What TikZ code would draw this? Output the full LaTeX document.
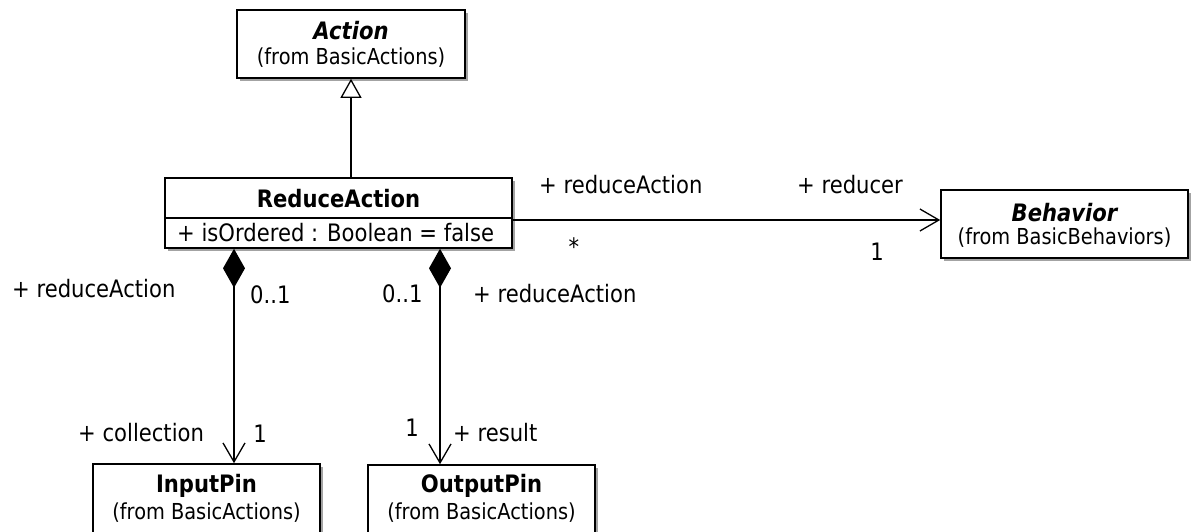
\documentclass[tikz,border=0pt]{standalone}
\usepackage{fontspec}
\setmainfont{DejaVu Sans}[FakeStretch=0.88]
\usetikzlibrary{arrows.meta,shadows}
\begin{document}
\begin{tikzpicture}[x=1pt,y=-1pt,
  box/.style={draw=black, line width=1.6pt, fill=white, rectangle, inner sep=0pt,
    drop shadow={shadow xshift=2.5pt, shadow yshift=-2.5pt, fill=black!45, opacity=0.8}},
  lbl/.style={font=\fontsize{24}{26}\selectfont, inner sep=0pt},
  ttl/.style={font=\fontsize{24}{26}\selectfont\bfseries, inner sep=0pt},
  ittl/.style={font=\fontsize{24}{26}\selectfont\bfseries\itshape, inner sep=0pt},
  frm/.style={font=\fontsize{22}{24}\selectfont, inner sep=0pt},
  conn/.style={line width=1.3pt},
  inherit/.style={conn, -{Triangle[open, length=19pt, width=21pt, line width=1.3pt, fill=white]}},
  nav/.style={conn, -{Straight Barb[length=19pt, width=22pt, line width=1.3pt]}},
  comp/.style={conn, {Diamond[length=39pt, width=22pt]}-{Straight Barb[length=19pt, width=22pt, line width=1.3pt]}}
]
\useasboundingbox (0,0) rectangle (1191,531);
\clip (0,0) rectangle (1191,531);

% boxes
\node[box, minimum width=228pt, minimum height=68pt] (act) at (351,44) {};
\node[box, minimum width=347pt, minimum height=70pt] (ra) at (338.5,213) {};
\node[box, minimum width=247pt, minimum height=68pt] (beh) at (1064.5,224) {};
\node[box, minimum width=227pt, minimum height=76pt] (inp) at (206.5,502) {};
\node[box, minimum width=227pt, minimum height=76pt] (outp) at (481.5,503) {};

% divider in ReduceAction
\draw[line width=1.6pt] ([yshift=-5pt]ra.west) -- ([yshift=-5pt]ra.east);

% box texts
\node[ittl] (actT) at (351,31) {Action};
\node[frm] (actF) at (351,58) {(from BasicActions)};
\node[ttl] (raT) at (338.5,199) {ReduceAction};
\node[lbl, anchor=west] (raA) at (177,233) {+ isOrdered : Boolean = false};
\node[ittl] (behT) at (1064.5,213) {Behavior};
\node[frm] (behF) at (1064.5,238) {(from BasicBehaviors)};
\node[ttl] (inpT) at (206.5,486) {InputPin};
\node[frm] (inpF) at (206.5,513) {(from BasicActions)};
\node[ttl] (outT) at (481.5,486) {OutputPin};
\node[frm] (outF) at (481.5,513) {(from BasicActions)};

% connectors
\draw[inherit] (ra.north -| act.south) -- (act.south);
\draw[nav] ([yshift=-7pt]ra.east) -- ([yshift=-7pt]ra.east -| beh.west);
\draw[comp] ([xshift=-104.5pt]ra.south) -- ([xshift=-104.5pt]ra.south |- inp.north);
\draw[comp] ([xshift=101.5pt]ra.south) -- ([xshift=101.5pt]ra.south |- outp.north);

% association labels
\node[lbl, anchor=west] (l1) at (539,185) {+ reduceAction};
\node[lbl, anchor=west] (l2) at (797,185) {+ reducer};
\node[lbl] (l3) at (574,247) {*};
\node[lbl] (l4) at (877,252) {1};
\node[lbl, anchor=west] (l5) at (12,289) {+ reduceAction};
\node[lbl, anchor=west] (l6) at (250,295) {0..1};
\node[lbl, anchor=west] (l7) at (382,294) {0..1};
\node[lbl, anchor=west] (l8) at (473,294) {+ reduceAction};
\node[lbl, anchor=west] (l9) at (78,433) {+ collection};
\node[lbl] (l10) at (260,434) {1};
\node[lbl] (l11) at (412,428) {1};
\node[lbl, anchor=west] (l12) at (453,433) {+ result};
\end{tikzpicture}
\end{document}
